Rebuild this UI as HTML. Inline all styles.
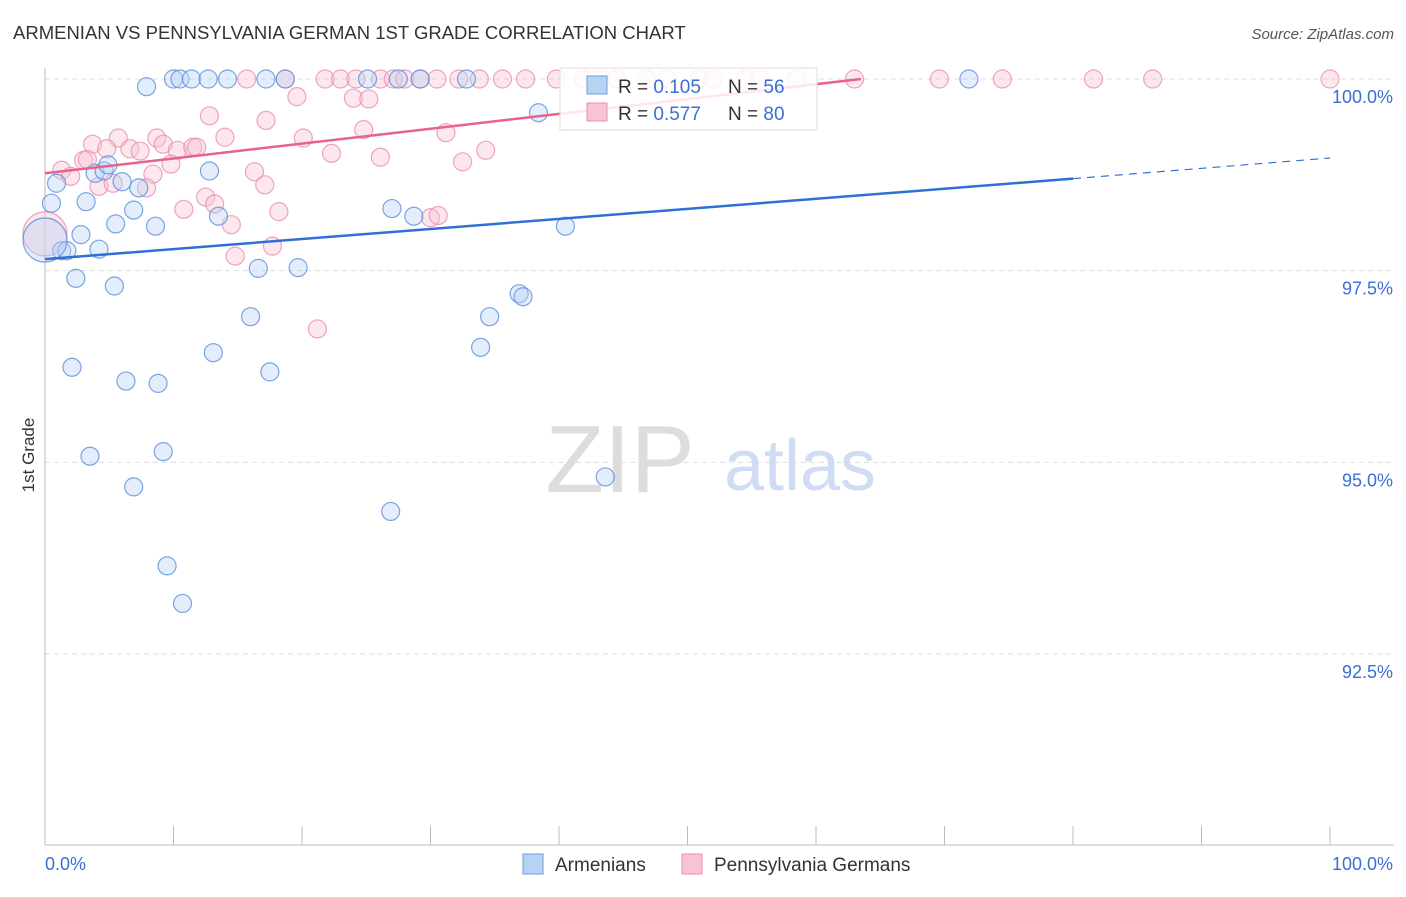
<!DOCTYPE html>
<html><head><meta charset="utf-8"><style>
body{margin:0;background:#fff;font-family:"Liberation Sans",sans-serif;}
svg text{font-family:"Liberation Sans",sans-serif;}
</style></head><body>
<svg id="chart" width="1406" height="892">
<text x="13" y="39" font-size="18.5" fill="#333">ARMENIAN VS PENNSYLVANIA GERMAN 1ST GRADE CORRELATION CHART</text>
<text x="1394" y="39" font-size="15" fill="#555" font-style="italic" text-anchor="end">Source: ZipAtlas.com</text>
<text transform="translate(34,455) rotate(-90)" font-size="17" fill="#333" text-anchor="middle">1st Grade</text>
<g id="grid"></g>
<text x="620" y="492" font-size="96" fill="#ddd" font-family="Liberation Serif" text-anchor="middle">ZIP</text>
<text x="800" y="490" font-size="72" fill="#cfdcf3" text-anchor="middle">atlas</text>
<g id="marks"></g>
<g id="legend">
<rect x="560" y="68" width="257" height="62" fill="#fff" fill-opacity="0.85" stroke="#ddd"/>
<rect x="587" y="76" width="20" height="18" fill="#b8d2f4" stroke="#6a9ee0"/>
<rect x="587" y="103" width="20" height="18" fill="#f8c3d3" stroke="#ea8fae"/>
<text x="618" y="93" font-size="19" fill="#333">R = <tspan fill="#3a6fd8">0.105</tspan></text>
<text x="728" y="93" font-size="19" fill="#333">N = <tspan fill="#3a6fd8">56</tspan></text>
<text x="618" y="120" font-size="19" fill="#333">R = <tspan fill="#3a6fd8">0.577</tspan></text>
<text x="728" y="120" font-size="19" fill="#333">N = <tspan fill="#3a6fd8">80</tspan></text>
</g>
<g>
<rect x="523" y="854" width="20" height="20" fill="#b8d2f4" stroke="#6a9ee0"/>
<text x="555" y="871" font-size="19" fill="#333">Armenians</text>
<rect x="682" y="854" width="20" height="20" fill="#f8c3d3" stroke="#ea8fae"/>
<text x="714" y="871" font-size="19" fill="#333">Pennsylvania Germans</text>
</g>
</svg>
<script>
const yTicks=[100,97.5,95,92.5];
const yTickLabels=["100.0%","97.5%","95.0%","92.5%"];
const blueX=[7.9,10,10.5,11.4,12.7,14.2,17.2,18.7,25.1,27.5,29.2,32.8,71.9,38.4,0.9,0.5,3.2,3.9,4.6,4.9,6,7.3,6.9,5.5,8.6,12.8,13.5,2.8,4.2,1.3,1.7,2.4,5.4,16.6,19.7,16,13.1,2.1,6.3,8.8,17.5,27,28.7,40.5,36.9,37.2,34.6,33.9,3.5,9.2,6.9,9.5,10.7,26.9,43.6,0];
const blueY=[99.9,100,100,100,100,100,100,100,100,100,100,100,100,99.56,98.64,98.38,98.4,98.77,98.8,98.88,98.66,98.58,98.29,98.11,98.08,98.8,98.21,97.97,97.78,97.76,97.76,97.4,97.3,97.53,97.54,96.9,96.43,96.24,96.06,96.03,96.18,98.31,98.21,98.08,97.2,97.16,96.9,96.5,95.08,95.14,94.68,93.65,93.16,94.36,94.81,97.9];
const pinkX=[15.7,18.7,21.8,23,24.2,26.1,27.1,28,29.2,30.5,32.2,33.8,35.6,37.4,39.8,41.9,43.2,44.5,46.8,48.4,50.9,52,54.5,55.6,58.5,63,69.6,74.5,81.6,86.2,100,19.6,24,25.2,12.8,17.2,24.8,31.2,20.1,5.7,8.7,14,3.7,34.3,4.8,6.6,7.4,9.2,10.3,11.5,11.8,22.3,26.1,32.5,3,3.3,1.3,2,9.8,8.4,16.3,17.1,4.2,5.3,7.9,12.5,13.2,18.2,10.8,14.5,30,30.6,17.7,14.8,21.2,0];
const pinkY=[100,100,100,100,100,100,100,100,100,100,100,100,100,100,100,100,100,100,100,100,100,100,100,100,100,100,100,100,100,100,100,99.77,99.75,99.74,99.52,99.46,99.34,99.3,99.23,99.23,99.23,99.24,99.15,99.07,99.09,99.09,99.06,99.15,99.07,99.11,99.11,99.03,98.98,98.92,98.94,98.95,98.81,98.73,98.89,98.76,98.79,98.62,98.6,98.64,98.58,98.46,98.37,98.27,98.3,98.1,98.19,98.22,97.82,97.69,96.74,97.98];
const blueTrend=[[0,97.65],[80,98.7]];
const blueTrendExt=[[80,98.7],[100,98.97]];
const pinkTrend=[[0,98.77],[63.5,100]];
const X0=45,X1=1330,Y100=79,PXPER=76.67;
const sx=v=>X0+(X1-X0)*v/100;
const sy=v=>Y100+(100-v)*PXPER;
const NS="http://www.w3.org/2000/svg";
const grid=document.getElementById('grid'),marks=document.getElementById('marks'),svg=document.getElementById('chart');
function mk(tag,attrs,parent){const e=document.createElementNS(NS,tag);for(const k in attrs)e.setAttribute(k,attrs[k]);parent.appendChild(e);return e;}
yTicks.forEach((t,i)=>{
 const l=mk('line',{x1:45,x2:1394,y1:sy(t),y2:sy(t),stroke:'#ddd','stroke-dasharray':'5,4'},grid);
 
 
 const tx=mk('text',{x:1393,y:sy(t)+24,'font-size':18,fill:'#3a6fd8','text-anchor':'end'},grid);
 tx.textContent=yTickLabels[i];
 
 
});
const ax=mk('line',{x1:45,x2:45,y1:68,y2:845,stroke:'#bbb'},grid);


const bx=mk('line',{x1:45,x2:1394,y1:845,y2:845,stroke:'#bbb'},grid);


for(let i=0;i<=10;i++){const t=mk('line',{x1:sx(i*10),x2:sx(i*10),y1:826,y2:845,stroke:'#bbb'},grid);
 
 }
const xl=mk('text',{x:45,y:870,'font-size':18,fill:'#3a6fd8'},grid);xl.textContent='0.0%';


const xr=mk('text',{x:1393,y:870,'font-size':18,fill:'#3a6fd8','text-anchor':'end'},grid);xr.textContent='100.0%';


function dots(X,Y,fill,stroke,name){X.forEach((x,i)=>{const big=(x===0);
 const c=mk('circle',{cx:sx(x),cy:sy(Y[i]),r:big?22:9,fill:fill,'fill-opacity':0.4,stroke:stroke,'stroke-opacity':0.8,'stroke-width':1.2},marks);
 
 });}
dots(pinkX,pinkY,'#f8c3d3','#ea8fae','pa-german-point');
dots(blueX,blueY,'#b8d2f4','#5a8fdc','armenian-point');
function line(p,col,dash,name){const l=mk('line',{x1:sx(p[0][0]),y1:sy(p[0][1]),x2:sx(p[1][0]),y2:sy(p[1][1]),stroke:col,'stroke-width':dash?1.2:2.5,'stroke-dasharray':dash?'8,6':'none'},marks);
 
 }
line(blueTrend,'#2f6fd6',false,'armenian-trendline');
line(blueTrendExt,'#2f6fd6',true,'armenian-trendline-extension');
line(pinkTrend,'#e8628d',false,'pa-german-trendline');
svg.appendChild(document.getElementById('legend'));
</script>
</body></html>
